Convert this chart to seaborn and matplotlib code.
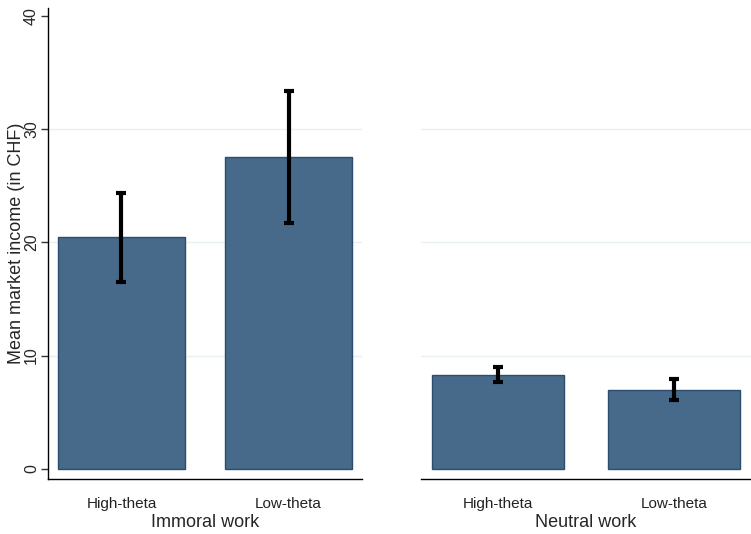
import matplotlib
matplotlib.use("Agg")
import matplotlib.pyplot as plt
import pandas as pd
import seaborn as sns

# data
groups = ["Immoral work", "Neutral work"]
conditions = ["High-theta", "Low-theta"]
immoral_mean = [20.45, 27.55]
immoral_lo = [16.5, 21.75]
immoral_hi = [24.4, 33.4]
neutral_mean = [8.3, 6.95]
neutral_lo = [7.65, 6.05]
neutral_hi = [8.95, 7.9]
y_ticks = [0, 10, 20, 30, 40]

bar_color = "#476a8b"
edge_color = "#2a4d70"
grid_color = "#e9f0f2"

sns.set_style("white")
plt.rcParams["font.family"] = ["Liberation Sans", "DejaVu Sans"]

fig = plt.figure(figsize=(7.51, 5.34), dpi=100)
ax1 = fig.add_axes([48 / 751, 55 / 534, 314 / 751, 471 / 534])
ax2 = fig.add_axes([421 / 751, 55 / 534, 330 / 751, 471 / 534])

panels = [
    (ax1, groups[0], immoral_mean, immoral_lo, immoral_hi),
    (ax2, groups[1], neutral_mean, neutral_lo, neutral_hi),
]

for ax, name, means, lo, hi in panels:
    df = pd.DataFrame({"cond": conditions, "mean": means})
    sns.barplot(data=df, x="cond", y="mean", ax=ax, color=bar_color,
                saturation=1, width=0.755, edgecolor=edge_color,
                linewidth=1, errorbar=None, zorder=2)
    xs = range(len(means))
    yerr = [[m - l for m, l in zip(means, lo)], [h - m for m, h in zip(means, hi)]]
    _, caps, lines = ax.errorbar(xs, means, yerr=yerr, fmt="none", ecolor="black",
                                 elinewidth=3, capsize=3.8, capthick=3, zorder=3)
    for ln in lines:
        ln.set_capstyle("round")
    ax.set_xlim(-0.44, 1.44)
    ax.set_ylim(-0.9, 40.7)
    ax.set_yticks(y_ticks)
    ax.yaxis.grid(True, color=grid_color, linewidth=1, zorder=0)
    gl = ax.yaxis.get_gridlines()
    gl[0].set_visible(False)
    gl[-1].set_visible(False)
    ax.set_axisbelow(True)
    ax.set_xlabel(name, fontsize=13)
    ax.xaxis.set_label_coords(0.5, -0.0913)
    ax.xaxis.label.set_va("center")
    ax.tick_params(axis="x", length=0, pad=13, labelsize=11, labelcolor="#222222")
    for s in ["top", "right"]:
        ax.spines[s].set_visible(False)
    ax.spines["bottom"].set_color("black")
    ax.spines["bottom"].set_linewidth(1)

ax1.set_ylabel("Mean market income (in CHF)", fontsize=13)
ax1.yaxis.set_label_coords(-0.1, 0.5)
ax1.yaxis.label.set_va("center")
ax1.tick_params(axis="y", length=5, width=1, pad=1.5, labelsize=11.5,
                left=True, color="#333333")
for lab in ax1.get_yticklabels():
    lab.set_rotation(90)
    lab.set_va("center")
ax1.spines["left"].set_color("black")
ax1.spines["left"].set_linewidth(1)

ax2.spines["left"].set_visible(False)
ax2.set_ylabel("")
ax2.tick_params(axis="y", left=False, labelleft=False)

fig.savefig("out.png", dpi=100)
